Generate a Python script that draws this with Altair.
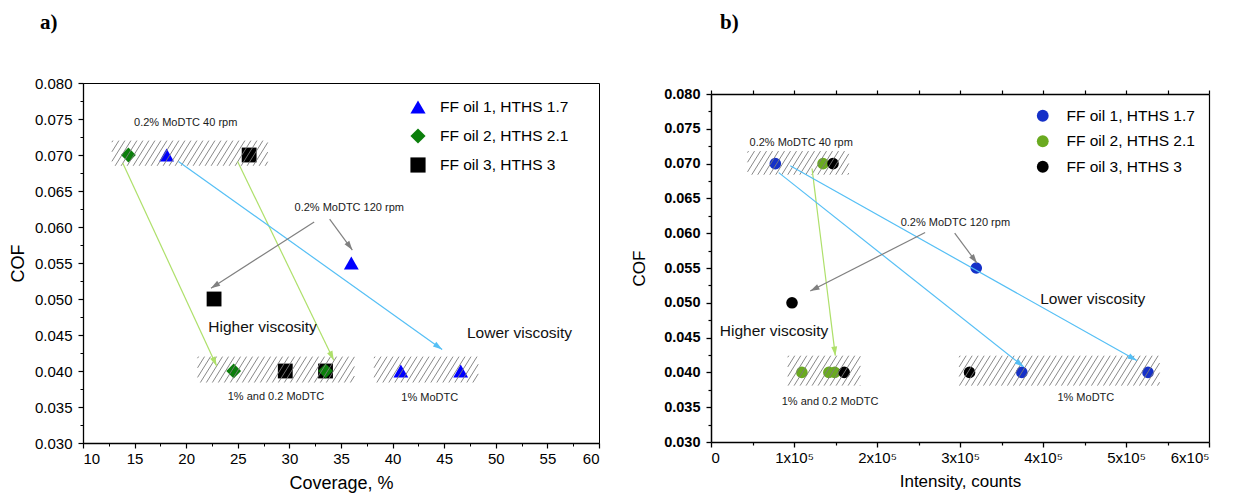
import math
import altair as alt
import pandas as pd

FONT = "Liberation Sans"
SERIF = "Liberation Serif"

series = ["FF oil 1, HTHS 1.7", "FF oil 2, HTHS 2.1", "FF oil 3, HTHS 3"]

# ---------------- panel a) data ----------------
a_colors = ["#0000ff", "#0b7f0b", "#000000"]
a_shapes = ["triangle-up", "diamond", "square"]
a_coverage = [26.1, 22.7, 29.6, 33.5, 18.1, 36.0, 40.8, 46.6, 14.4, 24.6, 33.5]
a_cof = [0.070, 0.050, 0.040, 0.040, 0.070, 0.055, 0.040, 0.040, 0.070, 0.040, 0.040]
a_group = [series[2]] * 4 + [series[0]] * 4 + [series[1]] * 3

a_x_ticks = [10, 15, 20, 25, 30, 35, 40, 45, 50, 55, 60]
a_x_minor = [12.5, 17.5, 22.5, 27.5, 32.5, 37.5, 42.5, 47.5, 52.5, 57.5]
y_ticks = [0.030, 0.035, 0.040, 0.045, 0.050, 0.055, 0.060, 0.065, 0.070, 0.075, 0.080]
y_minor = [0.0325, 0.0375, 0.0425, 0.0475, 0.0525, 0.0575, 0.0625, 0.0675, 0.0725, 0.0775]

# hatched regions (x0, x1, y0, y1)
a_hatch_x0 = [12.8, 21.1, 38.2]
a_hatch_x1 = [27.9, 36.3, 48.3]
a_hatch_y0 = [0.0685, 0.0384, 0.0384]
a_hatch_y1 = [0.0720, 0.0420, 0.0420]

# arrows
a_arr_x0 = [13.85, 24.98, 19.25, 32.4, 33.9]
a_arr_y0 = [0.0689, 0.0691, 0.0691, 0.0607, 0.0611]
a_arr_x1 = [22.95, 34.3, 44.8, 22.4, 36.1]
a_arr_y1 = [0.0407, 0.0415, 0.0430, 0.0515, 0.0568]
a_arr_col = ["#aee06a", "#aee06a", "#55bff5", "#808080", "#808080"]

a_small_text = ["0.2% MoDTC 40 rpm", "0.2% MoDTC 120 rpm", "1% and 0.2 MoDTC", "1% MoDTC"]
a_small_x = [19.95, 35.8, 28.7, 43.6]
a_small_y = [0.0744, 0.0626, 0.0364, 0.0363]
a_big_text = ["Higher viscosity", "Lower viscosity"]
a_big_x = [27.4, 52.3]
a_big_y = [0.0461, 0.0453]

# ---------------- panel b) data ----------------
b_colors = ["#1530c8", "#6aaa20", "#000000"]
b_intensity = [135000, 109500, 142000, 149000, 147000, 97600, 160500, 311500,
               77500, 319600, 374500, 526500]
b_cof = [0.070, 0.040, 0.040, 0.040, 0.070, 0.050, 0.040, 0.040,
         0.070, 0.055, 0.040, 0.040]
b_group = [series[1]] * 4 + [series[2]] * 4 + [series[0]] * 4

b_x_ticks = [0, 100000, 200000, 300000, 400000, 500000, 600000]
b_x_minor = [50000, 150000, 250000, 350000, 450000, 550000]
b_x_top = [0, 50000, 100000, 150000, 200000, 250000, 300000, 350000, 400000,
           450000, 500000, 550000, 600000]

b_hatch_x0 = [44000, 92500, 299000]
b_hatch_x1 = [166000, 180000, 540500]
b_hatch_y0 = [0.0684, 0.0381, 0.0381]
b_hatch_y1 = [0.0718, 0.0424, 0.0424]

b_arr_x0 = [121700, 81600, 95500, 258000, 293600]
b_arr_y0 = [0.0693, 0.0687, 0.0697, 0.0601, 0.0600]
b_arr_x1 = [149800, 376700, 513000, 119600, 320500]
b_arr_y1 = [0.0424, 0.0408, 0.0417, 0.0517, 0.0557]
b_arr_col = ["#aee06a", "#55bff5", "#55bff5", "#808080", "#808080"]

b_small_text = ["0.2% MoDTC 40 rpm", "0.2% MoDTC 120 rpm", "1% and 0.2 MoDTC", "1% MoDTC"]
b_small_x = [108700, 294400, 143400, 451600]
b_small_y = [0.0729, 0.0614, 0.0357, 0.0363]
b_big_text = ["Higher viscosity", "Lower viscosity"]
b_big_x = [76000, 460000]
b_big_y = [0.0459, 0.0505]

# ---------------- geometry ----------------
A_W, A_H = 516, 360
B_W, B_H, B_TOP = 498, 359, 11

a_pxx, a_pxy = A_W / 50.0, A_H / 0.05
b_pxx, b_pxy = B_W / 600000.0, (B_H - B_TOP) / 0.05


def hatch_df(x0s, x1s, y0s, y1s, pxx, pxy, spacing=6.0, angle_deg=58.0):
    rows = []
    t = math.tan(math.radians(angle_deg))
    for x0, x1, y0, y1 in zip(x0s, x1s, y0s, y1s):
        W = (x1 - x0) * pxx
        H = (y1 - y0) * pxy
        k = H / t
        b = -k + 1.0
        while b < W:
            tmin = max(0.0, -b / k)
            tmax = min(1.0, (W - b) / k)
            if tmax > tmin:
                rows.append({
                    "x": x0 + (b + tmin * k) / pxx, "y": y0 + tmin * H / pxy,
                    "x2": x0 + (b + tmax * k) / pxx, "y2": y0 + tmax * H / pxy,
                })
            b += spacing
    return pd.DataFrame(rows)


def arrow_dfs(x0s, y0s, x1s, y1s, cols, pxx, pxy):
    shafts = pd.DataFrame({"x": x0s, "y": y0s, "x2": x1s, "y2": y1s, "c": cols})
    angs = []
    for a, b, c, d in zip(x0s, y0s, x1s, y1s):
        dx = (c - a) * pxx
        dy = -(d - b) * pxy
        angs.append(math.degrees(math.atan2(dx, -dy)) % 360)
    heads = pd.DataFrame({"x": x1s, "y": y1s, "c": cols, "ang": angs})
    return shafts, heads


HEAD = "M0,0L0.32,1L-0.32,1Z"


def panel(pts, xfield, xscale, yscale, xmaj, ymaj, xmin, ymin, color, shape, size,
          hatch, shafts, heads, small, big, extra=None):
    base = alt.Chart(pts)
    points = base.mark_point(filled=True, opacity=1, size=size, strokeWidth=0).encode(
        x=alt.X(f"{xfield}:Q", scale=xscale, axis=xmaj),
        y=alt.Y("cof:Q", scale=yscale, axis=ymaj),
        color=color, shape=shape,
    )
    minor = base.mark_point(opacity=0).encode(
        x=alt.X(f"{xfield}:Q", scale=xscale, axis=xmin),
        y=alt.Y("cof:Q", scale=yscale, axis=ymin),
    )
    hat = alt.Chart(hatch).mark_rule(color="#7a7a7a", strokeWidth=0.9).encode(
        x=alt.X("x:Q", scale=xscale, axis=None),
        y=alt.Y("y:Q", scale=yscale, axis=None),
        x2="x2:Q", y2="y2:Q",
    )
    sh = alt.Chart(shafts).mark_rule(strokeWidth=1.2).encode(
        x=alt.X("x:Q", scale=xscale, axis=None),
        y=alt.Y("y:Q", scale=yscale, axis=None),
        x2="x2:Q", y2="y2:Q",
        color=alt.Color("c:N", scale=None, legend=None),
    )
    hd = alt.Chart(heads).mark_point(shape=HEAD, filled=True, size=340, opacity=1, strokeWidth=0).encode(
        x=alt.X("x:Q", scale=xscale, axis=None),
        y=alt.Y("y:Q", scale=yscale, axis=None),
        color=alt.Color("c:N", scale=None, legend=None),
        angle=alt.Angle("ang:Q", scale=None),
    )
    st = alt.Chart(small).mark_text(font=FONT, fontSize=11, color="#1a1a1a").encode(
        x=alt.X("x:Q", scale=xscale, axis=None),
        y=alt.Y("y:Q", scale=yscale, axis=None),
        text="t:N",
    )
    bt = alt.Chart(big).mark_text(font=FONT, fontSize=15.5, color="#111111").encode(
        x=alt.X("x:Q", scale=xscale, axis=None),
        y=alt.Y("y:Q", scale=yscale, axis=None),
        text="t:N",
    )
    layers = [points, minor]
    if extra is not None:
        layers.append(extra)
    layers += [hat, sh, hd, st, bt]
    return alt.layer(*layers).resolve_axis(x="independent", y="independent")


common_axis = dict(grid=False, domainColor="black", tickColor="black", labelColor="black",
                   titleColor="black", labelFont=FONT, titleFont=FONT, titleFontWeight="normal")

# ---------------- panel a) ----------------
a_xs = alt.Scale(domain=[10, 60], nice=False, zero=False)
a_ys = alt.Scale(domain=[0.03, 0.08], nice=False, zero=False)
a_pts = pd.DataFrame({"cov": a_coverage, "cof": a_cof, "oil": a_group})
a_leg = alt.Legend(title=None, orient="none", legendX=327, legendY=16, padding=0,
                   labelFont=FONT, labelFontSize=15.5, labelColor="black", labelOffset=14,
                   rowPadding=12, symbolSize=230, symbolStrokeWidth=0)
a_color = alt.Color("oil:N", scale=alt.Scale(domain=series, range=a_colors), legend=a_leg)
a_shape = alt.Shape("oil:N", scale=alt.Scale(domain=series, range=a_shapes), legend=a_leg)

a_xmaj = alt.Axis(orient="bottom", values=a_x_ticks, title="Coverage, %", tickSize=5,
                  labelFontSize=15, labelPadding=3, titleFontSize=18, titlePadding=8,
                  domainWidth=1.3, tickWidth=1.2, **common_axis)
a_ymaj = alt.Axis(orient="left", values=y_ticks, format=".3f", title="COF", tickSize=5,
                  labelFontSize=15, labelPadding=6, titleFontSize=18, titlePadding=7,
                  domainWidth=1.3, tickWidth=1.2, **common_axis)
a_xmin = alt.Axis(orient="bottom", values=a_x_minor, labels=False, domain=False, title=None,
                  tickSize=3, tickWidth=1, **common_axis)
a_ymin = alt.Axis(orient="left", values=y_minor, labels=False, domain=False, title=None,
                  tickSize=3, tickWidth=1, **common_axis)

a_sh, a_hd = arrow_dfs(a_arr_x0, a_arr_y0, a_arr_x1, a_arr_y1, a_arr_col, a_pxx, a_pxy)
a_hatch = hatch_df(a_hatch_x0, a_hatch_x1, a_hatch_y0, a_hatch_y1, a_pxx, a_pxy)
a_small = pd.DataFrame({"t": a_small_text, "x": a_small_x, "y": a_small_y})
a_big = pd.DataFrame({"t": a_big_text, "x": a_big_x, "y": a_big_y})

chart_a = panel(a_pts, "cov", a_xs, a_ys, a_xmaj, a_ymaj, a_xmin, a_ymin, a_color, a_shape, 220,
                a_hatch, a_sh, a_hd, a_small, a_big).properties(
    width=A_W, height=A_H,
    view=alt.ViewBackground(stroke="black", strokeWidth=1),
    title=alt.TitleParams(text="a)", anchor="start", frame="group", dx=-43, offset=22,
                          baseline="bottom", font=SERIF, fontSize=21, fontWeight="bold",
                          color="black"),
)

# ---------------- panel b) ----------------
b_xs = alt.Scale(domain=[0, 600000], nice=False, zero=False)
b_ys = alt.Scale(domain=[0.03, 0.08], nice=False, zero=False, range=[B_H, B_TOP])
b_pts = pd.DataFrame({"inten": b_intensity, "cof": b_cof, "oil": b_group})
b_leg = alt.Legend(title=None, orient="none", legendX=324, legendY=25, padding=0,
                   labelFont=FONT, labelFontSize=15.5, labelColor="black", labelOffset=16,
                   rowPadding=8.5, symbolSize=140, symbolStrokeWidth=0)
b_color = alt.Color("oil:N", scale=alt.Scale(domain=series, range=b_colors), legend=b_leg)
b_shape = alt.Shape("oil:N", scale=alt.Scale(domain=series, range=["circle", "circle", "circle"]),
                    legend=b_leg)

b_xmaj = alt.Axis(orient="bottom", values=b_x_ticks, title="Intensity, counts", tickSize=5,
                  labelExpr="datum.value == 0 ? '0' : format(datum.value / 100000, 'd') + 'x10\u2075'",
                  labelFontSize=15, labelPadding=3, titleFontSize=17, titlePadding=8,
                  domainWidth=1.5, tickWidth=1.3, **common_axis)
b_ymaj = alt.Axis(orient="left", values=y_ticks, format=".3f", title="COF", tickSize=5,
                  labelFontSize=14.5, labelFontWeight="bold", labelPadding=6, titleFontSize=17,
                  titlePadding=15, domainWidth=1.5, tickWidth=1.3, **common_axis)
b_xmin = alt.Axis(orient="bottom", values=b_x_minor, labels=False, domain=False, title=None,
                  tickSize=3, tickWidth=1.2, **common_axis)
b_ymin = alt.Axis(orient="left", values=y_minor, labels=False, domain=False, title=None,
                  tickSize=3, tickWidth=1.2, **common_axis)
b_xtop = alt.Axis(orient="top", values=b_x_top, labels=False, title=None, offset=-B_TOP,
                  tickSize=4, tickWidth=1.2, domainWidth=1.5, **common_axis)
b_yright = alt.Axis(orient="right", labels=False, ticks=False, title=None, domainWidth=1.2,
                    **common_axis)

b_frame = alt.Chart(b_pts).mark_point(opacity=0).encode(
    x=alt.X("inten:Q", scale=b_xs, axis=b_xtop),
    y=alt.Y("cof:Q", scale=b_ys, axis=b_yright),
)

b_sh, b_hd = arrow_dfs(b_arr_x0, b_arr_y0, b_arr_x1, b_arr_y1, b_arr_col, b_pxx, b_pxy)
b_hatch = hatch_df(b_hatch_x0, b_hatch_x1, b_hatch_y0, b_hatch_y1, b_pxx, b_pxy)
b_small = pd.DataFrame({"t": b_small_text, "x": b_small_x, "y": b_small_y})
b_big = pd.DataFrame({"t": b_big_text, "x": b_big_x, "y": b_big_y})

chart_b = panel(b_pts, "inten", b_xs, b_ys, b_xmaj, b_ymaj, b_xmin, b_ymin, b_color, b_shape, 135,
                b_hatch, b_sh, b_hd, b_small, b_big, extra=b_frame).properties(
    width=B_W, height=B_H,
    view=alt.ViewBackground(stroke="transparent"),
    title=alt.TitleParams(text="b)", anchor="start", frame="group", dx=9, offset=29,
                          baseline="bottom", font=SERIF, fontSize=21, fontWeight="bold",
                          color="black"),
)

chart = alt.hconcat(chart_a, chart_b, spacing=29).resolve_scale(
    color="independent", shape="independent"
).resolve_legend(color="independent", shape="independent").properties(
    padding={"left": 0, "top": 3, "right": 5, "bottom": 5},
    background="white",
)

chart.save("out.html", embed_options={"renderer": "svg", "actions": False})
